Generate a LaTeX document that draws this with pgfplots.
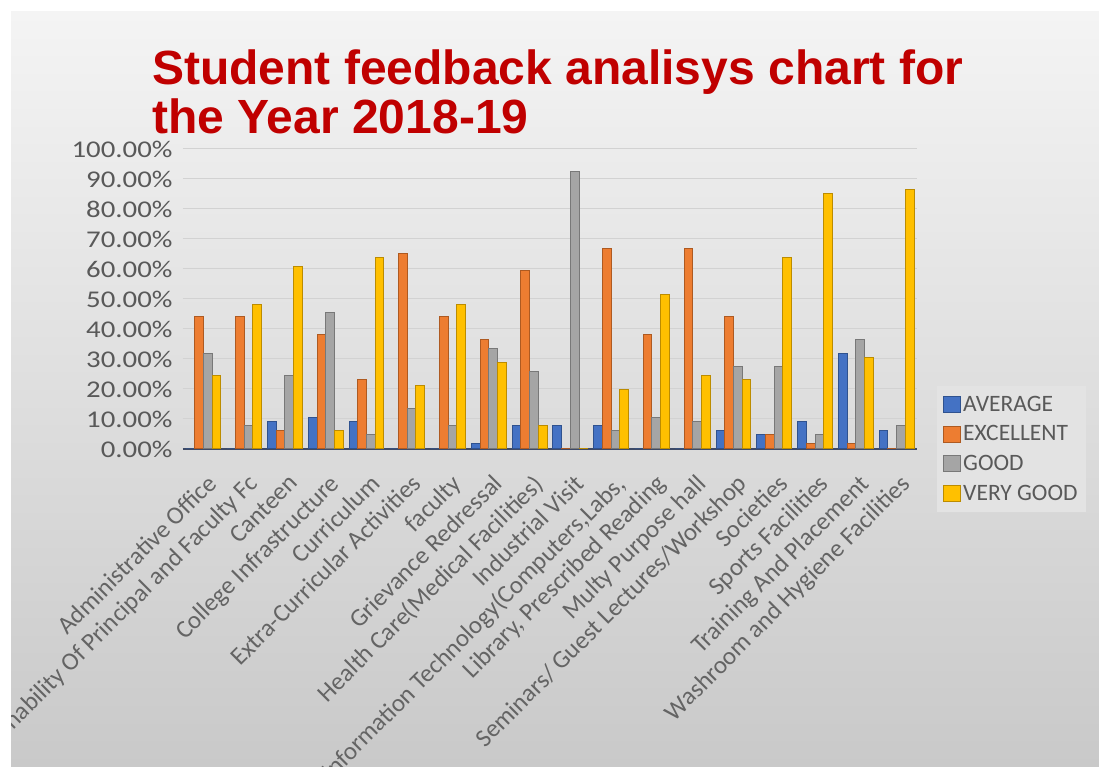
\documentclass[border=0pt]{standalone}
\usepackage{pgfplots}
\pgfplotsset{compat=1.18}
\usepackage{fontspec}
\setmainfont{Carlito}
\newfontfamily\ylabfont[FakeStretch=1.2]{Carlito}
\newfontfamily\titlefont{Liberation Sans}
\definecolor{cavg}{HTML}{4472C4}\definecolor{cavgD}{HTML}{2F528F}
\definecolor{cexc}{HTML}{ED7D31}\definecolor{cexcD}{HTML}{AE5A21}
\definecolor{cgood}{HTML}{A5A5A5}\definecolor{cgoodD}{HTML}{787878}
\definecolor{cvg}{HTML}{FFC000}\definecolor{cvgD}{HTML}{BC8C00}
\definecolor{txt}{HTML}{595959}
\definecolor{xtxt}{HTML}{646464}
\definecolor{ttl}{HTML}{C00000}
\definecolor{gridc}{HTML}{D2D2D2}
\definecolor{bgtop}{HTML}{F4F4F4}
\definecolor{bgbot}{HTML}{C9C9C9}
\definecolor{legbg}{HTML}{E3E3E3}
\definecolor{basec}{HTML}{3E4A66}
\pgfplotstableread{
x avg exc good vg
0 0 44.1 31.9 24.5
1 0 44.1 7.7 48.3
2 9.1 6.1 24.5 60.7
3 10.6 38.0 45.6 6.1
4 9.1 23.0 4.7 63.8
5 0 65.2 13.6 21.3
6 0 44.1 7.7 48.3
7 1.7 36.5 33.5 28.9
8 7.7 59.4 25.8 7.7
9 7.7 0.3 92.4 0.3
10 7.7 66.9 6.1 19.9
11 0 38.0 10.6 51.6
12 0 66.9 9.1 24.5
13 6.1 44.1 27.4 23.0
14 4.7 4.7 27.4 63.8
15 9.1 1.7 4.7 85.2
16 31.9 1.7 36.5 30.5
17 6.1 0.3 7.7 86.5
}\datatable
\begin{document}
\begin{tikzpicture}[x=1pt,y=1pt]
\useasboundingbox (0,0) rectangle (1099,767);
\fill[white] (0,0) rectangle (1099,767);
\begin{scope}
\clip (11,0) rectangle (1099,755);
\shade[top color=bgtop, bottom color=bgbot] (11,0) rectangle (1099,755);
\node[anchor=base west, inner sep=0pt, text=ttl, font=\titlefont\bfseries\fontsize{48}{52}\selectfont] at (152,682) {Student feedback analisys chart for};
\node[anchor=base west, inner sep=0pt, text=ttl, font=\titlefont\bfseries\fontsize{48}{52}\selectfont] at (152,633) {the Year 2018-19};
\begin{axis}[
  at={(183pt,318pt)}, anchor=south west,
  scale only axis, width=734pt, height=300pt,
  xmin=-0.5, xmax=17.5, ymin=0, ymax=100,
  ybar=0pt, bar width=8.7pt,
  axis x line*=bottom, axis y line*=left,
  y axis line style={draw=none},
  x axis line style={draw=basec, line width=1.5pt},
  major tick length=0pt,
  ymajorgrids, grid style={draw=gridc, line width=1pt},
  ytick={0,10,...,100},
  yticklabel={\pgfmathprintnumber[fixed,fixed zerofill,precision=2,assume math mode=true]{\tick}\%},
  yticklabel style={font=\ylabfont\fontsize{24}{26}\selectfont, text=txt, xshift=-7pt},
  xtick={0,...,17},
  xticklabels={Administrative Office, Approachability Of Principal and Faculty Fc, Canteen, College Infrastructure, Curriculum, Extra-Curricular Activities, faculty, Grievance Redressal, Health Care(Medical Facilities), Industrial Visit, {Information Technology(Computers,Labs,}, {Library, Prescribed Reading}, Multy Purpose hall, Seminars/ Guest Lectures/Workshop, Societies, Sports Facilities, Training And Placement, Washroom and Hygiene Facilities},
  xticklabel style={rotate=45, anchor=north east, font=\fontsize{25}{27}\selectfont, text=xtxt, inner sep=1pt, yshift=-17.5pt, xshift=-14pt},
  legend style={at={(axis description cs:1,0)}, anchor=west, xshift=20pt, draw=none, fill=legbg,
     font=\fontsize{23.5}{26}\selectfont, text=txt, row sep=9pt, inner xsep=6pt, inner ysep=8pt},
  legend cell align=left,
  legend image code/.code={\draw[#1, line width=1pt] (0pt,-8pt) rectangle (17pt,8pt);},
]
\addplot[fill=cavg, draw=cavgD, line width=1pt] table[x=x, y=avg] {\datatable};
\addplot[fill=cexc, draw=cexcD, line width=1pt] table[x=x, y=exc] {\datatable};
\addplot[fill=cgood, draw=cgoodD, line width=1pt] table[x=x, y=good] {\datatable};
\addplot[fill=cvg, draw=cvgD, line width=1pt] table[x=x, y=vg] {\datatable};
\legend{AVERAGE, EXCELLENT, GOOD, VERY GOOD}
\end{axis}
\end{scope}
\end{tikzpicture}
\end{document}
